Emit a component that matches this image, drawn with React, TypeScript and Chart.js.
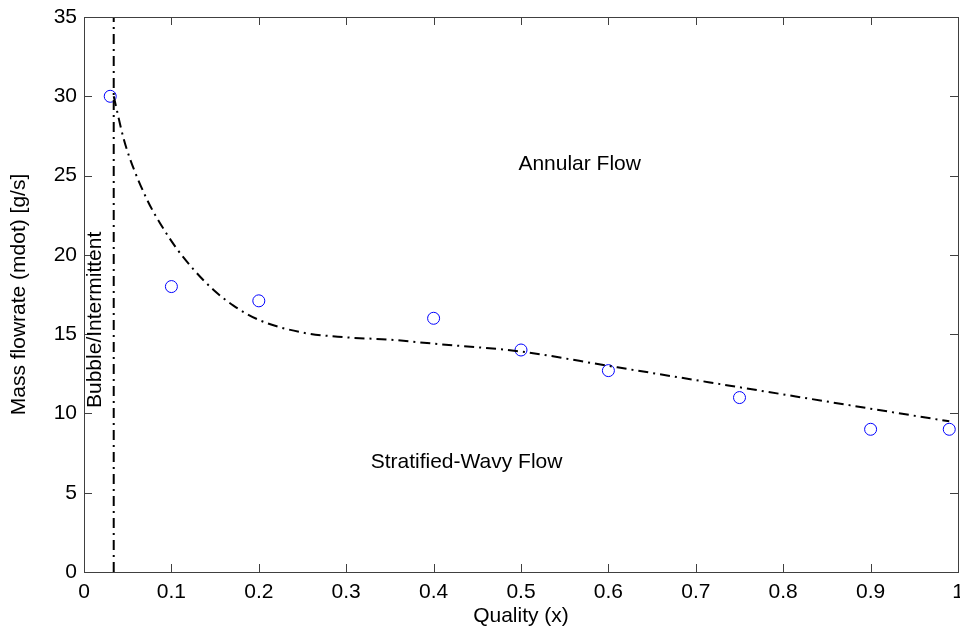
import React, { useEffect, useRef } from "react";
import { Chart, registerables } from "chart.js";

Chart.register(...registerables);

// Measured points (blue circles)
const pointX = [0.03, 0.1, 0.2, 0.4, 0.5, 0.6, 0.75, 0.9, 0.99];
const pointY = [30, 18, 17.1, 16, 14, 12.7, 11, 9, 9];

// Annular / stratified-wavy transition curve
const curveX = [0.034, 0.045, 0.053, 0.072, 0.087, 0.106, 0.125, 0.148, 0.171, 0.2, 0.25, 0.3, 0.35, 0.4, 0.5, 0.6, 0.7, 0.8, 0.9, 0.99];
const curveY = [30, 27.4, 26.0, 23.5, 22.0, 20.4, 19.1, 17.8, 16.8, 15.9, 15.1, 14.8, 14.65, 14.4, 13.9, 13.0, 12.1, 11.2, 10.3, 9.5];

// Bubble/intermittent boundary
const boundaryX = [0.034, 0.034];
const boundaryY = [0, 35];

// Axis ticks
const xTicks = [0, 0.1, 0.2, 0.3, 0.4, 0.5, 0.6, 0.7, 0.8, 0.9, 1];
const xTickLabels = ["0", "0.1", "0.2", "0.3", "0.4", "0.5", "0.6", "0.7", "0.8", "0.9", "1"];
const yTicks = [0, 5, 10, 15, 20, 25, 30, 35];
const yTickLabels = ["0", "5", "10", "15", "20", "25", "30", "35"];

// Region labels
const regionLabels = ["Annular Flow", "Stratified-Wavy Flow", "Bubble/Intermittent"];
const regionX = [0.497, 0.328, 0.0126];
const regionY = [25.7, 6.9, 15.9];
const regionRotation = [0, 0, -90];

const FONT = "'Liberation Sans', Arial, sans-serif";
const FS = 21;

export default function App() {
  const ref = useRef<HTMLCanvasElement | null>(null);

  useEffect(() => {
    const canvas = ref.current;
    if (!canvas) return;

    const frame = {
      id: "frame",
      afterDatasetsDraw(chart: any) {
        const { ctx, chartArea: a, scales } = chart;
        const x = scales.x;
        const y = scales.y;
        const T = 8;
        ctx.save();
        ctx.strokeStyle = "#404040";
        ctx.lineWidth = 1;
        ctx.strokeRect(Math.round(a.left) + 0.5, Math.round(a.top) + 0.5, Math.round(a.right - a.left), Math.round(a.bottom - a.top));
        ctx.beginPath();
        for (const v of xTicks) {
          const px = Math.round(x.getPixelForValue(v)) + 0.5;
          ctx.moveTo(px, a.bottom);
          ctx.lineTo(px, a.bottom - T);
          ctx.moveTo(px, a.top);
          ctx.lineTo(px, a.top + T);
        }
        for (const v of yTicks) {
          const py = Math.round(y.getPixelForValue(v)) + 0.5;
          ctx.moveTo(a.left, py);
          ctx.lineTo(a.left + T, py);
          ctx.moveTo(a.right, py);
          ctx.lineTo(a.right - T, py);
        }
        ctx.stroke();

        ctx.fillStyle = "#000";
        ctx.font = FS + "px " + FONT;
        ctx.textBaseline = "middle";
        regionLabels.forEach((t, i) => {
          const px = x.getPixelForValue(regionX[i]);
          const py = y.getPixelForValue(regionY[i]);
          ctx.save();
          ctx.translate(px, py);
          if (regionRotation[i] !== 0) {
            ctx.rotate((regionRotation[i] * Math.PI) / 180);
            ctx.textAlign = "center";
          } else {
            ctx.textAlign = "left";
          }
          ctx.fillText(t, 0, 0);
          ctx.restore();
        });
        ctx.restore();
      },
    };

    const dash = [10, 5, 2, 5];

    const chart = new Chart(canvas, {
      type: "scatter",
      data: {
        datasets: [
          {
            label: "Boundary",
            type: "line",
            data: boundaryX.map((v, i) => ({ x: v, y: boundaryY[i] })),
            borderColor: "#000",
            borderWidth: 2,
            borderDash: dash,
            pointRadius: 0,
            fill: false,
          } as any,
          {
            label: "Transition",
            type: "line",
            data: curveX.map((v, i) => ({ x: v, y: curveY[i] })),
            borderColor: "#000",
            borderWidth: 2,
            borderDash: dash,
            pointRadius: 0,
            cubicInterpolationMode: "monotone",
            fill: false,
          } as any,
          {
            label: "Data",
            data: pointX.map((v, i) => ({ x: v, y: pointY[i] })),
            pointStyle: "circle",
            pointRadius: 6,
            borderColor: "#0000ff",
            backgroundColor: "rgba(0,0,0,0)",
            borderWidth: 1,
          },
        ],
      },
      options: {
        animation: false,
        responsive: false,
        devicePixelRatio: 1,
        layout: { autoPadding: false, padding: { top: 17, right: 2, left: 0, bottom: 0 } },
        plugins: { legend: { display: false }, tooltip: { enabled: false } },
        scales: {
          x: {
            type: "linear",
            min: 0,
            max: 1,
            grid: { display: false, drawTicks: false },
            border: { display: false },
            afterBuildTicks: (s: any) => {
              s.ticks = xTicks.map((v) => ({ value: v }));
            },
            afterFit: (s: any) => {
              s.height = 60;
              s.paddingLeft = 0;
              s.paddingRight = 0;
            },
            ticks: {
              autoSkip: false,
              maxRotation: 0,
              minRotation: 0,
              padding: 8,
              color: "#000",
              font: { size: FS, family: FONT },
              callback: (_v: any, i: number) => xTickLabels[i],
            },
            title: {
              display: true,
              text: "Quality (x)",
              color: "#000",
              font: { size: FS, family: FONT },
              padding: { top: 0, bottom: 3 },
            },
          },
          y: {
            type: "linear",
            min: 0,
            max: 35,
            grid: { display: false, drawTicks: false },
            border: { display: false },
            afterBuildTicks: (s: any) => {
              s.ticks = yTicks.map((v) => ({ value: v }));
            },
            afterFit: (s: any) => {
              s.width = 84;
              s.paddingTop = 0;
              s.paddingBottom = 0;
            },
            ticks: {
              autoSkip: false,
              padding: 7,
              color: "#000",
              font: { size: FS, family: FONT },
              callback: (_v: any, i: number) => yTickLabels[i],
            },
            title: {
              display: true,
              text: "Mass flowrate (mdot) [g/s]",
              color: "#000",
              font: { size: FS, family: FONT },
              padding: { top: 7, bottom: 0 },
            },
          },
        },
      },
      plugins: [frame],
    });

    return () => chart.destroy();
  }, []);

  return (
    <div style={{ position: "fixed", left: 0, top: 0, width: 960, height: 632, background: "#fff" }}>
      <canvas ref={ref} width={960} height={632} style={{ display: "block" }} />
    </div>
  );
}
